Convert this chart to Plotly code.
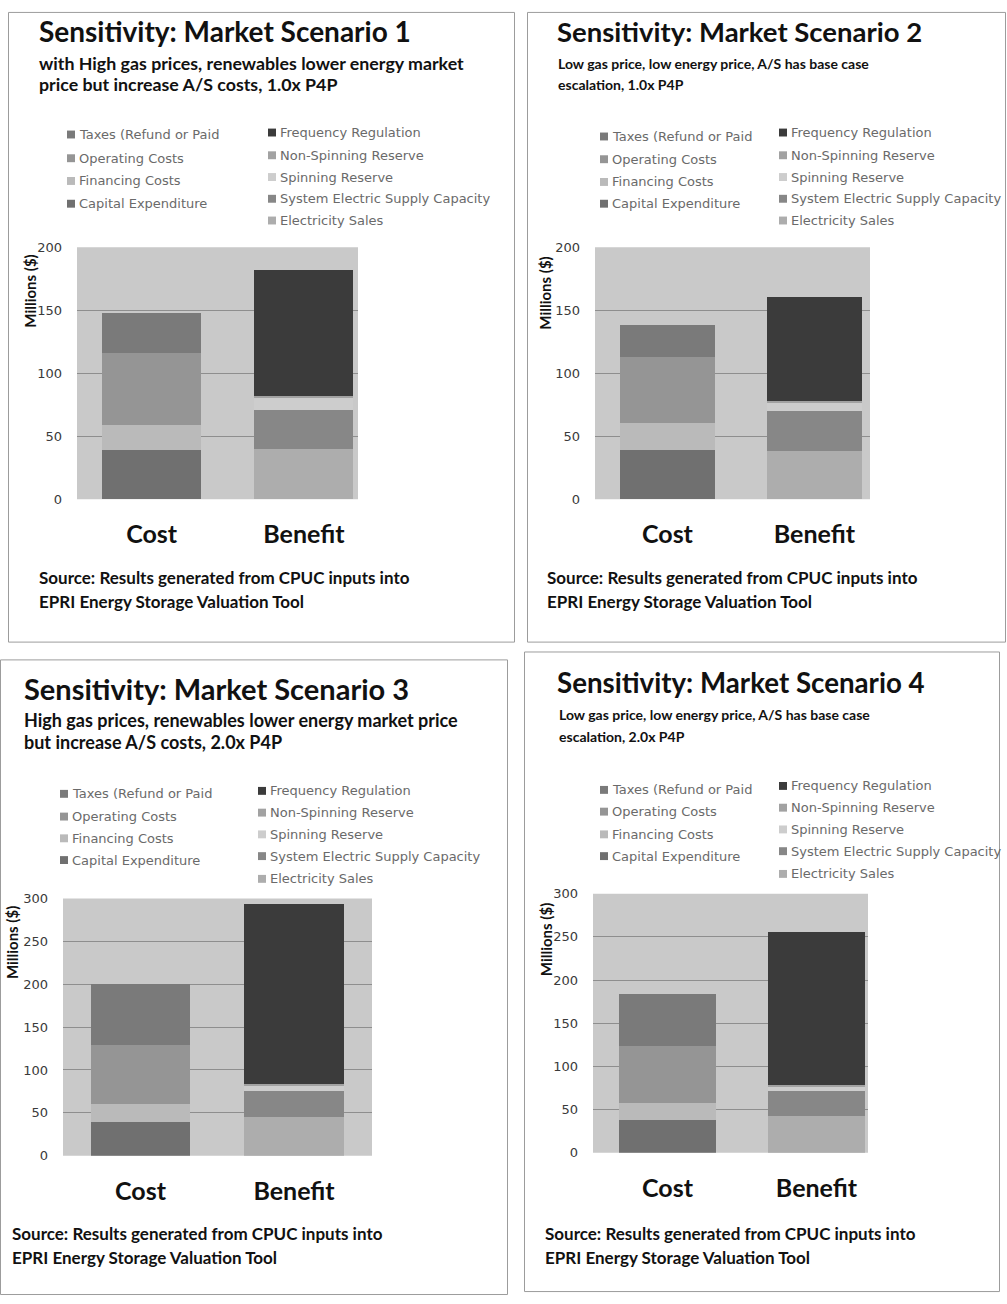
import plotly.graph_objects as go

W, H = 1007, 1304

# ---------------- data ----------------
panel_titles = [
    "Sensitivity: Market Scenario 1",
    "Sensitivity: Market Scenario 2",
    "Sensitivity: Market Scenario 3",
    "Sensitivity: Market Scenario 4",
]
panel_notes = [
    ["with High gas prices, renewables lower energy market",
     "price but increase A/S costs, 1.0x P4P"],
    ["Low gas price, low energy price, A/S has base case",
     "escalation, 1.0x P4P"],
    ["High gas prices, renewables lower energy market price",
     "but increase A/S costs, 2.0x P4P"],
    ["Low gas price, low energy price, A/S has base case",
     "escalation, 2.0x P4P"],
]
source_lines = ["Source: Results generated from CPUC inputs into",
                "EPRI Energy Storage Valuation Tool"]
categories = ["Cost", "Benefit"]
y_title = "Millions ($)"

# cost stack, bottom to top (one value per scenario, $ millions)
cost_names = ["Capital Expenditure", "Financing Costs", "Operating Costs",
              "Taxes (Refund or Paid"]
capital_expenditure = [39, 39, 40, 38]
financing_costs = [20, 21, 21, 20]
operating_costs = [57, 53, 69, 66]
taxes = [32, 25, 71, 60]

# benefit stack, bottom to top
benefit_names = ["Electricity Sales", "System Electric Supply Capacity",
                 "Spinning Reserve", "Non-Spinning Reserve",
                 "Frequency Regulation"]
electricity_sales = [40, 38, 46, 43]
system_capacity = [31, 32, 30, 29]
spinning_reserve = [9, 6, 6, 5]
non_spinning_reserve = [2, 2, 2, 2]
frequency_regulation = [100, 82, 210, 177]

y_max = [200, 200, 300, 300]
y_step = 50

cost_values = [capital_expenditure, financing_costs, operating_costs, taxes]
benefit_values = [electricity_sales, system_capacity, spinning_reserve,
                  non_spinning_reserve, frequency_regulation]

# ---------------- styling ----------------
series_colors = {
    "Capital Expenditure": "#707070",
    "Financing Costs": "#bababa",
    "Operating Costs": "#959595",
    "Taxes (Refund or Paid": "#7a7a7a",
    "Electricity Sales": "#adadad",
    "System Electric Supply Capacity": "#878787",
    "Spinning Reserve": "#cdcdcd",
    "Non-Spinning Reserve": "#a2a2a2",
    "Frequency Regulation": "#3b3b3b",
}
PLOT_BG = "#c9c9c9"
GRID = "#8e8e8e"
TEXT_FONT = "Lato"
SMALL_FONT = "DejaVu Sans"

# pixel geometry of each panel
frames = [(8, 5, 515, 643), (527, 5, 1006, 643),
          (0, 660, 508, 1303), (524, 652, 1000, 1300)]
plot_px = [  # x_left, x_right, y_top, y_bottom
    (77, 358, 243, 498), (595, 870, 243, 498),
    (63, 372, 902, 1162), (593, 868, 897, 1159)]
x_ranges = [(-0.49, 1.355), (-0.493, 1.378), (-0.505, 1.508), (-0.5, 1.346)]
title_pos = [(37, 24, 28), (555, 25, 27.5), (22, 689, 29), (555, 683, 27.7)]
note_pos = [(37, 57, 78, 17.8), (556, 57, 78, 14), (22, 721, 744, 18), (557, 716, 738, 14)]
source_pos = [(37, 577, 601), (545, 577, 601), (10, 1241, 1265), (543, 1241, 1265)]
ytitle_pos = [(30, 288), (545, 290), (12, 947), (546, 944)]
legend_cost = [(67, [129, 153, 176, 199]), (600, [131, 154, 177, 199]),
               (60, [796, 819, 841, 863]), (600, [792, 814, 837, 859])]
legend_benefit = [(268, [127, 150, 172, 194, 216]), (779, [127, 150, 172, 194, 216]),
                  (258, [793, 815, 837, 859, 882]), (779, [788, 810, 832, 854, 877])]


def px(x):
    return x / W


def py(y):
    return 1 - y / H


def label(x, y, text, size, color="#111111", family=TEXT_FONT, angle=0, anchor="left"):
    return dict(x=px(x), y=py(y), xref="paper", yref="paper",
                xanchor=anchor, yanchor="middle", showarrow=False,
                textangle=angle, text=text,
                font=dict(family=family, size=size, color=color))


fig = go.Figure()
layout = {}
shapes = []
annotations = []

for i in range(4):
    n = "" if i == 0 else str(i + 1)
    xa, ya = "x" + n, "y" + n

    for name, vals in zip(cost_names, cost_values):
        fig.add_trace(go.Bar(
            x=[categories[0]], y=[vals[i]], name=name, width=0.65,
            marker=dict(color=series_colors[name], line=dict(width=0)),
            xaxis=xa, yaxis=ya, showlegend=False))
    for name, vals in zip(benefit_names, benefit_values):
        fig.add_trace(go.Bar(
            x=[categories[1]], y=[vals[i]], name=name, width=0.65,
            marker=dict(color=series_colors[name], line=dict(width=0)),
            xaxis=xa, yaxis=ya, showlegend=False))

    xl, xr, yt, yb = plot_px[i]
    layout["xaxis" + n] = dict(
        domain=[px(xl), px(xr)], anchor=ya, type="category",
        categoryorder="array", categoryarray=categories,
        range=list(x_ranges[i]), showgrid=False, zeroline=False,
        showline=False, ticks="", ticklabelstandoff=18,
        tickfont=dict(family=TEXT_FONT, size=25, color="#111111", weight="bold"),
        fixedrange=True)
    layout["yaxis" + n] = dict(
        domain=[py(yb), py(yt)], anchor=xa, range=[0, y_max[i]],
        tick0=0, dtick=y_step, showgrid=True, gridcolor=GRID, gridwidth=1,
        zeroline=False, showline=False, ticks="", ticklabelstandoff=14,
        tickfont=dict(family=SMALL_FONT, size=13, color="#3a3a3a"),
        fixedrange=True)

    # plot-area background
    shapes.append(dict(type="rect", xref="paper", yref="paper", layer="below",
                       x0=px(xl), x1=px(xr), y0=py(yb), y1=py(yt),
                       fillcolor=PLOT_BG, line=dict(width=0)))
    # panel frame
    fx0, fy0, fx1, fy1 = frames[i]
    shapes.append(dict(type="rect", xref="paper", yref="paper",
                       x0=px(fx0 + 0.5), x1=px(fx1 - 0.5),
                       y0=py(fy1 - 0.5), y1=py(fy0 + 0.5),
                       line=dict(color="#9c9c9c", width=1)))

    # titles, notes, source
    tx, ty, tsize = title_pos[i]
    annotations.append(label(tx, ty, "<b>" + panel_titles[i] + "</b>", tsize))
    nx, ny1, ny2, nsize = note_pos[i]
    for line, yy in zip(panel_notes[i], (ny1, ny2)):
        annotations.append(label(nx, yy, "<b>" + line + "</b>", nsize))
    sx, sy1, sy2 = source_pos[i]
    for line, yy in zip(source_lines, (sy1, sy2)):
        annotations.append(label(sx, yy, "<b>" + line + "</b>", 17))
    ax, ay = ytitle_pos[i]
    annotations.append(label(ax, ay, "<b>" + y_title + "</b>", 15,
                             angle=-90, anchor="center"))

    # legend entries: cost column (top series first), benefit column
    for (lx, rows), names in ((legend_cost[i], cost_names[::-1]),
                              (legend_benefit[i], benefit_names[::-1])):
        for name, ry in zip(names, rows):
            shapes.append(dict(type="rect", xref="paper", yref="paper",
                               x0=px(lx), x1=px(lx + 8), y0=py(ry + 4), y1=py(ry - 4),
                               fillcolor=series_colors[name], line=dict(width=0)))
            annotations.append(label(lx + 10, ry, name, 13, color="#6a6a6a",
                                     family=SMALL_FONT))

fig.update_layout(
    width=W, height=H, margin=dict(l=0, r=0, t=0, b=0),
    paper_bgcolor="white", plot_bgcolor="rgba(0,0,0,0)",
    barmode="stack", bargap=0, showlegend=False,
    shapes=shapes, annotations=annotations, **layout)

fig.write_html("out.html", config={"displayModeBar": False})
